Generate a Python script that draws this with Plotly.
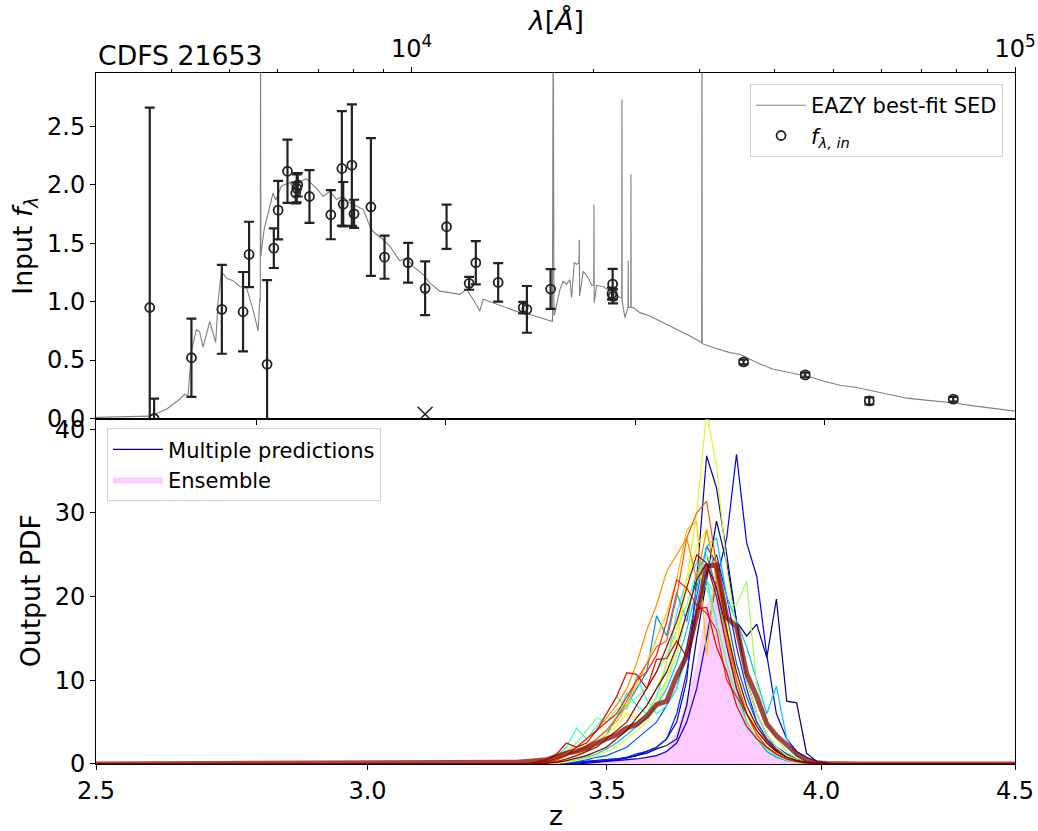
import math
import plotly.graph_objects as go

# ---------------- data: top panel (SED + photometry) ----------------
sed_wave = [2900, 3683, 3926, 4129, 4209, 4262, 4318, 4400, 4456, 4513,
            4630, 4737, 4779, 4842, 4936, 5061, 5192, 5327, 5463, 5569,
            5605, 5615, 5621, 5627, 5643, 5700, 5800, 5896, 5957, 6087,
            6283, 6405, 6529, 6699, 6960, 7137, 7321, 7511, 7702, 7901,
            8106, 8314, 8531, 8637, 8974, 9205, 9443, 9563, 9811, 10062,
            10452, 10723, 11139, 11573, 12024, 12334, 12648, 12975, 13141, 13652,
            14368, 15116, 15710, 16322, 17067, 17120, 17170, 17220, 17281, 17615,
            17840, 18072, 18302, 18420, 18604, 18776, 18940, 18963, 18990, 19253,
            19625, 19884, 20040, 20059, 20080, 20264, 20783, 21320, 21872, 22300,
            22320, 22340, 22573, 22840, 22860, 22880, 23080, 23098, 23120, 23301,
            23904, 24831, 27148, 28932, 30252, 30290, 30320, 31616, 33700, 35017,
            37305, 39753, 42364, 45154, 48106, 51286, 54664, 58237, 62073, 66161,
            70469, 75109, 80057, 85310, 90927, 100000, 105000]
sed_flux = [0.008, 0.02, 0.08, 0.165, 0.21, 0.19, 0.58, 0.76, 0.74, 0.61,
            0.83, 0.65, 1.0, 1.26, 1.2, 1.18, 1.13, 1.12, 0.93, 0.75,
            1.02, 1.0, 3.5, 1.39, 1.45, 1.62, 1.78, 1.93, 1.87, 1.99,
            2.02, 1.96, 2.03, 2.05, 1.97, 1.90, 1.945, 1.874, 1.90, 1.846,
            1.817, 1.79, 1.646, 1.60, 1.53, 1.475, 1.39, 1.35, 1.376, 1.30,
            1.233, 1.16, 1.09, 1.077, 1.062, 1.105, 1.02, 0.92, 1.02, 0.99,
            0.949, 0.906, 0.89, 0.863, 0.834, 0.83, 3.5, 0.88, 0.906, 1.105,
            1.176, 1.148, 1.19, 1.034, 1.333, 1.32, 1.33, 1.53, 1.05, 1.26,
            1.205, 1.14, 1.14, 1.83, 0.99, 1.14, 1.128, 1.09, 1.048, 1.03,
            2.73, 1.0, 0.863, 0.95, 1.35, 0.95, 0.95, 2.09, 0.95, 0.949,
            0.906, 0.877, 0.778, 0.706, 0.65, 3.5, 0.64, 0.607, 0.564, 0.55,
            0.479, 0.421, 0.393, 0.364, 0.321, 0.285, 0.265, 0.236, 0.208, 0.174,
            0.159, 0.145, 0.131, 0.108, 0.088, 0.063, 0.057]

phot_wave = [3683, 3745, 4318, 4849, 5258, 5380, 5763, 5913, 6011, 6229,
             6429, 6453, 6478, 6774, 7349, 7665, 7705, 7963, 8031, 8563,
             9020, 9871, 10532, 11430, 12458, 12780, 13918, 15310, 15530, 17000,
             21490, 21540, 21570, 35500, 44910, 57350, 79020]
phot_flux = [0.95, 0.00, 0.52, 0.934, 0.914, 1.404, 0.464, 1.458, 1.783, 2.116,
             1.93, 1.97, 2.00, 1.90, 1.744, 2.14, 1.834, 2.168, 1.752, 1.81,
             1.381, 1.333, 1.114, 1.641, 1.157, 1.333, 1.165, 0.949, 0.934, 1.108,
             1.07, 1.15, 1.045, 0.484, 0.373, 0.15, 0.165]
phot_err = [1.71, 0.17, 0.335, 0.38, 0.34, 0.28, 0.72, 0.17, 0.25, 0.27,
            0.09, 0.12, 0.10, 0.225, 0.21, 0.49, 0.19, 0.52, 0.12, 0.59,
            0.185, 0.17, 0.23, 0.19, 0.055, 0.185, 0.165, 0.05, 0.2, 0.17,
            0.05, 0.13, 0.06, 0.02, 0.02, 0.03, 0.02]

cross_wave = [10530]
cross_flux = [0.037]

wave_tickvals = [1e4, 1e5]
wave_ticktext = ["10<sup>4</sup>", "10<sup>5</sup>"]
wave_minor = [4000, 5000, 6000, 7000, 8000, 9000,
              20000, 30000, 40000, 50000, 60000, 70000, 80000, 90000]
lower_ticks = [5535, 11400, 23515, 48426]

# ---------------- data: bottom panel (PDFs) ----------------
z_grid = [2.5, 3.263, 3.284, 3.304, 3.325, 3.347, 3.368, 3.390, 3.411, 3.433,
          3.455, 3.477, 3.499, 3.521, 3.544, 3.566, 3.589, 3.611, 3.634, 3.657,
          3.680, 3.703, 3.726, 3.749, 3.773, 3.796, 3.820, 3.844, 3.868, 3.891,
          3.916, 3.940, 3.964, 3.989, 4.013, 4.038, 4.063, 4.088, 4.5]

pdf_00 = [0, 0,0,0,0,0,0,0,0.1,0.2,0.3, 0.4,0.5,0.6,0.8,1.0,1.3,1.8,2.2,3.0,7.0, 15,22,29,24,17,15.3,16.7,12.7,19.7,7.5, 7.3,1.3,0.3,0.1,0,0,0, 0]
pdf_01 = [0, 0,0,0,0,0,0,0,0,0.1,0.2, 0.3,0.4,0.5,0.7,1.0,1.5,2.0,3.0,5.0,10, 22,36.8,33,25,17,10,6,3.5,2.0,1.2, 0.6,0.3,0.1,0,0,0,0, 0]
pdf_02 = [0, 0,0,0,0,0,0,0,0,0,0.1, 0.2,0.3,0.4,0.5,0.6,0.8,1.0,1.5,2.5,5, 9,15,22,27,37,26.4,22.4,13,6,3, 1.5,0.8,0.3,0.1,0,0,0, 0]
pdf_03 = [0, 0,0,0,0,0,0,0,0.1,0.2,0.3, 0.4,0.5,0.6,0.8,1.2,1.5,2.0,3.0,6,11, 18,23,25,20,14,9,5,3,1.8,1.0, 0.5,0.2,0.1,0,0,0,0, 0]
pdf_04 = [0, 0,0,0,0,0,0,0.1,0.2,0.3,0.5, 0.8,1.0,1.5,2.0,3.0,4.0,5.0,7.0,9,14, 20,26,24,18,12,8,5,3,2,1.2, 0.6,0.3,0.1,0,0,0,0, 0]
pdf_05 = [0, 0,0,0,0,0,0.1,0.3,0.6,1.0,1.5, 2.5,3.5,5.5,7,9,11,17.7,15.3,20.5,17, 23,25,21,15,9,5,3,1.5,0.8,0.4, 0.2,0.1,0,0,0,0,0, 0]
pdf_06 = [0, 0,0,0,0,0,0,0.1,0.3,0.5,0.8, 1.2,1.8,2.5,3.5,4.5,5.5,7,9,12,16, 21,26,27,20,17,14,10,6,9.3,3, 1,0.3,0.1,0,0,0,0, 0]
pdf_07 = [0, 0,0,0,0,0.1,0.3,0.6,1.0,1.4,2.0, 3.0,4.0,5.5,8.5,7,6,8,12,18,22, 24,22,17,12,8,5,3,1.8,1.0,0.5, 0.2,0.1,0,0,0,0,0, 0]
pdf_08 = [0, 0,0,0,0,0.2,0.5,1.0,2.0,4.3,3.0, 4.5,6.0,8.1,6.5,10.5,7.7,6,7,9,13, 18,22,20,15,10,6,4,2.5,1.5,0.8, 0.4,0.2,0.1,0,0,0,0, 0]
pdf_09 = [0, 0,0,0,0,0.1,0.3,0.8,1.5,2.5,4.0, 5.5,5.0,6.5,7.0,8.0,9.0,11,13,16,19, 23,21,17,12,8,5,3,1.8,1.0,0.5, 0.2,0.1,0,0,0,0,0, 0]
pdf_10 = [0, 0,0,0,0,0,0,0.1,0.3,0.6,1.0, 1.5,2.0,3.0,4.0,5.0,6.0,8,10,13,18, 22,25,23,19,19,21.8,9.3,5,3,1.5, 0.7,0.3,0.1,0,0,0,0, 0]
pdf_11 = [0, 0,0,0,0,0,0,0.1,0.2,0.4,0.7, 1.0,1.5,2.0,3.0,4.0,5.0,7,10,14,22, 30,42,35.6,23.4,16,10,6,3.5,2,1, 0.5,0.2,0.1,0,0,0,0, 0]
pdf_12 = [0, 0,0,0,0,0,0.1,0.3,0.6,1.0,1.8, 2.5,3.5,4.5,6.0,5.5,7.0,9,12,16,22, 26,28,24,17,11,7,4,2.5,1.5,0.8, 0.4,0.2,0.1,0,0,0,0, 0]
pdf_13 = [0, 0,0,0,0,0,0.2,0.5,1.0,1.5,2.0, 3.0,4.0,5.0,7.0,9.5,12,15,18,22,28, 29,13,24,16,10,6,3.5,2,1.2,0.6, 0.3,0.1,0,0,0,0,0, 0]
pdf_14 = [0, 0,0,0,0.1,0.3,0.6,1.0,1.5,2.0,3.0, 4.0,5.5,7.0,9.0,12,16,19,23,25,27, 22,28,22,15,10,6,3.5,2,1.2,0.6, 0.3,0.1,0,0,0,0,0, 0]
pdf_15 = [0, 0,0,0,0,0.1,0.3,0.6,1.0,1.5,2.2, 3.0,4.0,5.5,7.5,10,12,14,14.7,20,27, 30,31.4,24,16,10,6,3.5,2,1.2,0.6, 0.3,0.1,0,0,0,0,0, 0]
pdf_16 = [0, 0,0,0,0,0,0.2,0.5,1.0,2.0,3.0, 4.0,5.0,6.0,8.0,10,11,13,17,22,21, 19,18,16,10,8,6,4,2.5,1.5,0.8, 0.4,0.2,0,0,0,0,0, 0]
pdf_17 = [0, 0,0,0,0,0.2,0.5,1.2,2.5,2.0,2.5, 4,6,8,10.9,10.7,9,12.5,12.6,14.7,12.8, 18.5,18.7,14,11,7,4.5,3,2,1.2,0.6, 0.3,0.1,0,0,0,0,0, 0]
pdf_18 = [0, 0,0,0,0,0,0.1,0.3,0.6,1.0,1.5, 2.0,3.0,4.0,5.0,7.0,9,11,14,17,21, 25,24,20,14,9,6,4,2.5,1.5,0.8, 0.4,0.2,0.1,0,0,0,0, 0]
pdf_19 = [0, 0,0,0,0,0,0.1,0.2,0.4,0.7,1.0, 1.5,2.0,3.0,4.0,5.5,7,9,11,14,18, 22,24,21,16,11,7,4.5,2.8,1.6,0.8, 0.4,0.2,0.1,0,0,0,0, 0]

ensemble_mean = [0, 0.05,0.1,0.2,0.3,0.4,0.5,0.9,1.3,1.5,1.9, 2.5,3.0,3.5,4.3,4.7,5.7,7.1,7.5,10.5,12.9, 17.7,23.6,23.8,17.5,16.4,10.8,8.0,4.8,3.4,2.3, 1.2,0.5,0.15,0.05,0,0,0, 0]
ensemble_fill = [0, 0,0,0,0,0.05,0.1,0.15,0.2,0.25,0.3, 0.35,0.4,0.5,0.6,0.7,0.9,1.1,1.5,4,8, 12,19,22,17,10,5.5,2.8,1.5,0.8,0.4, 0.2,0.1,0,0,0,0,0, 0]

pdf_lines = [pdf_00, pdf_01, pdf_02, pdf_03, pdf_04, pdf_05, pdf_06, pdf_07, pdf_08, pdf_09,
             pdf_10, pdf_11, pdf_12, pdf_13, pdf_14, pdf_15, pdf_16, pdf_17, pdf_18, pdf_19]

z_tickvals = [2.5, 3.0, 3.5, 4.0, 4.5]
z_ticktext = ["2.5", "3.0", "3.5", "4.0", "4.5"]


def jet(v):
    r = min(max(1.5 - abs(4 * v - 3), 0), 1)
    g = min(max(1.5 - abs(4 * v - 2), 0), 1)
    b = min(max(1.5 - abs(4 * v - 1), 0), 1)
    return f"rgb({int(255*r)},{int(255*g)},{int(255*b)})"


FONT = "DejaVu Sans"
fig = go.Figure()

# top panel
fig.add_trace(go.Scatter(x=sed_wave, y=sed_flux, mode="lines",
                         line=dict(color="rgb(128,128,128)", width=1.1),
                         name="EAZY best-fit SED", xaxis="x", yaxis="y",
                         legend="legend"))
fig.add_trace(go.Scatter(x=phot_wave, y=phot_flux, mode="markers",
                         marker=dict(symbol="circle-open", size=9, color="#222",
                                     line=dict(width=1.8, color="#222")),
                         error_y=dict(type="data", array=phot_err, visible=True,
                                      thickness=2.2, width=5, color="#222"),
                         name="<i>f</i><sub><i>λ, in</i></sub>", xaxis="x", yaxis="y",
                         legend="legend"))
fig.add_trace(go.Scatter(x=cross_wave, y=cross_flux, mode="markers",
                         marker=dict(symbol="x-thin-open", size=15, color="#222",
                                     line=dict(width=1.5, color="#222")),
                         showlegend=False, xaxis="x3", yaxis="y"))

# bottom panel
zp1 = [1 + z for z in z_grid]
fig.add_trace(go.Scatter(x=zp1, y=ensemble_fill, mode="lines", fill="tozeroy",
                         fillcolor="rgba(255,0,255,0.2)",
                         line=dict(width=0, color="rgba(255,0,255,0.2)"),
                         name="Ensemble", xaxis="x2", yaxis="y2",
                         legend="legend2", legendrank=2))
n = len(pdf_lines)
for i, vals in enumerate(pdf_lines):
    fig.add_trace(go.Scatter(x=zp1, y=vals, mode="lines",
                             line=dict(color=jet(i / (n - 1)), width=1.2),
                             name="Multiple predictions", showlegend=(i == 0),
                             xaxis="x2", yaxis="y2", legend="legend2",
                             legendrank=1))
fig.add_trace(go.Scatter(x=zp1, y=ensemble_mean, mode="lines",
                         line=dict(color="rgba(128,0,0,0.72)", width=5),
                         showlegend=False, xaxis="x2", yaxis="y2"))

axis_common = dict(showline=True, linecolor="black", linewidth=1, ticks="outside",
                   ticklen=5, tickwidth=1, tickcolor="black", showgrid=False,
                   zeroline=False, automargin=False,
                   tickfont=dict(size=24, color="black", family=FONT))

wl_range = [math.log10(3000), 5.0000001]
fig.update_layout(
    width=1038, height=831,
    margin=dict(l=96, r=23, t=73, b=67, autoexpand=False),
    paper_bgcolor="white", plot_bgcolor="white",
    font=dict(family=FONT, color="black"),
    xaxis=dict(type="log", range=wl_range, domain=[0, 1], anchor="y", side="top",
               mirror=True, tickmode="array", tickvals=wave_tickvals,
               ticktext=wave_ticktext,
               minor=dict(tickmode="array", tickvals=wave_minor, ticks="outside",
                          ticklen=3, tickwidth=1, tickcolor="black", showgrid=False),
               **axis_common),
    xaxis3=dict(type="log", range=wl_range, overlaying="x", anchor="y", side="bottom",
                tickmode="array", tickvals=lower_ticks, showticklabels=False,
                **axis_common),
    yaxis=dict(domain=[0.5, 1], anchor="x", range=[0, 2.957], mirror=True,
               tickmode="array", tickvals=[0, 0.5, 1.0, 1.5, 2.0, 2.5],
               ticktext=["0.0", "0.5", "1.0", "1.5", "2.0", "2.5"], **axis_common),
    xaxis2=dict(type="log", domain=[0, 1], anchor="y2",
                range=[math.log10(3.5) - 1e-6, math.log10(5.5) + 1e-6], mirror=True,
                tickmode="array", tickvals=[1 + z for z in z_tickvals],
                ticktext=z_ticktext, **axis_common),
    yaxis2=dict(domain=[0, 0.5], anchor="x2", range=[-0.001, 41.27], mirror=True,
                tickmode="array", tickvals=[0, 10, 20, 30, 40], **axis_common),
    legend=dict(x=0.987, xanchor="right", y=0.984, yanchor="top",
                bordercolor="#d0d0d0", borderwidth=1, bgcolor="rgba(255,255,255,0.85)",
                itemwidth=50,
                font=dict(size=21, family=FONT, color="black")),
    legend2=dict(x=0.012, xanchor="left", y=0.486, yanchor="top",
                 bordercolor="#d0d0d0", borderwidth=1, bgcolor="rgba(255,255,255,0.85)",
                 itemwidth=50,
                 font=dict(size=21, family=FONT, color="black"),
                 traceorder="normal"),
    annotations=[
        dict(text="CDFS 21653", xref="paper", yref="paper", x=0, y=1,
             xanchor="left", yanchor="bottom", showarrow=False,
             font=dict(size=26.7, family=FONT, color="black")),
        dict(text="<i>λ</i>[<i>Å</i>]", xref="paper", yref="paper", x=0.5, y=1.0767,
             xanchor="center", yanchor="middle", showarrow=False,
             font=dict(size=26.7, family=FONT, color="black")),
        dict(text="z", xref="paper", yref="paper", x=0.5, y=-0.074,
             xanchor="center", yanchor="middle", showarrow=False,
             font=dict(size=26.7, family=FONT, color="black")),
        dict(text="Input <i>f</i><sub><i>λ</i></sub>", xref="paper", yref="paper",
             x=-0.0773, y=0.75, xanchor="center", yanchor="middle", textangle=-90,
             showarrow=False, font=dict(size=26.7, family=FONT, color="black")),
        dict(text="Output PDF", xref="paper", yref="paper", x=-0.0718,
             y=0.25, xanchor="center", yanchor="middle", textangle=-90,
             showarrow=False, font=dict(size=26.7, family=FONT, color="black")),
    ],
)

fig.write_html("out.html")
